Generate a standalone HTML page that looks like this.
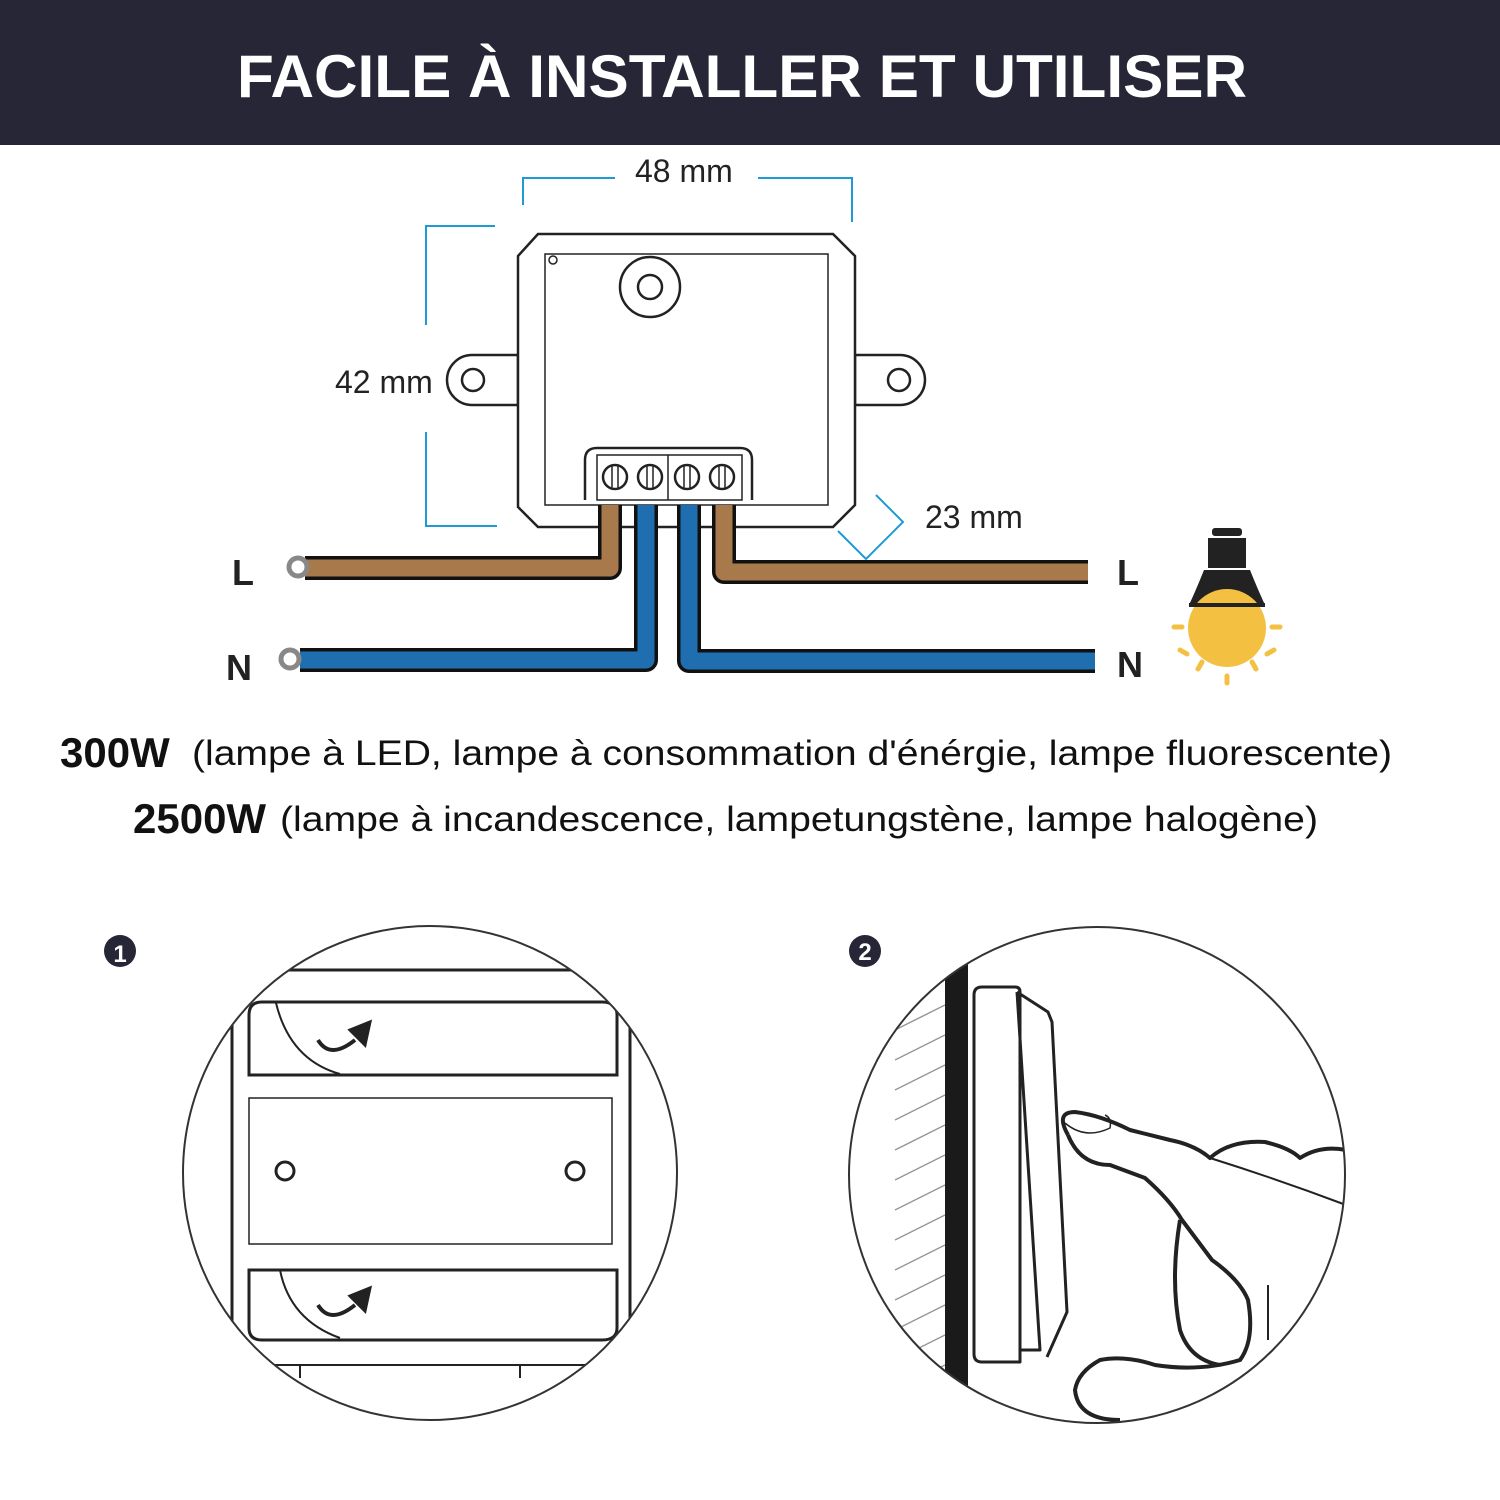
<!DOCTYPE html>
<html><head><meta charset="utf-8"><style>
html,body{margin:0;padding:0;background:#fff;width:1500px;height:1500px;overflow:hidden}
svg{display:block}
</style></head><body>
<svg width="1500" height="1500" viewBox="0 0 1500 1500" xmlns="http://www.w3.org/2000/svg">
<rect x="0" y="0" width="1500" height="145" fill="#262636"/>
<text x="742" y="97" text-anchor="middle" font-family="Liberation Sans, sans-serif" font-weight="bold" font-size="60" fill="#fff" textLength="1010" lengthAdjust="spacingAndGlyphs">FACILE À INSTALLER ET UTILISER</text>

<g stroke="#1e9ad6" stroke-width="2" fill="none">
<path d="M523,205 V178 H615 M758,178 H852 V222"/>
<path d="M495,226 H426 V325 M426,432 V526 H497"/>
<path d="M876,495 L903,522 L866,559 L838,531"/>
</g>
<g font-family="Liberation Sans, sans-serif" font-size="32" fill="#222">
<text x="635" y="182">48 mm</text>
<text x="335" y="393">42 mm</text>
<text x="925" y="528">23 mm</text>
</g>

<g stroke="#222" stroke-width="2.5" fill="#fff">
<path d="M518,355 H472 A25,25 0 0 0 472,405 H518 Z"/>
<path d="M855,355 H900 A25,25 0 0 1 900,405 H855 Z"/>
<circle cx="473" cy="380" r="11"/>
<circle cx="899" cy="380" r="11"/>
<path d="M538,234 H833 L855,256 V505 L833,527 H538 L518,507 V256 Z"/>
<path d="M545,254 H828 V505 H545 Z" fill="none" stroke-width="1.5"/>
<circle cx="650" cy="287" r="30"/>
<circle cx="650" cy="287" r="12"/>
<circle cx="553" cy="260" r="4" stroke-width="1.5"/>
<path d="M585,500 V460 Q585,448 597,448 H740 Q752,448 752,460 V500" />
<rect x="597" y="455" width="145" height="45" stroke-width="1.5"/>
<line x1="668" y1="455" x2="668" y2="500" stroke-width="1.5"/>
<circle cx="615" cy="477" r="12"/><circle cx="650" cy="477" r="12"/>
<circle cx="687" cy="477" r="12"/><circle cx="722" cy="477" r="12"/>
<path d="M612,466 V488 M618,466 V488 M647,466 V488 M653,466 V488 M684,466 V488 M690,466 V488 M719,466 V488 M725,466 V488" stroke-width="1.5"/>
</g>

<g fill="none" stroke-linejoin="round">
<path d="M305,568 H610 V505" stroke="#111" stroke-width="24"/>
<path d="M305,568 H610 V505" stroke="#a8794a" stroke-width="17"/>
<path d="M300,660 H646 V505" stroke="#111" stroke-width="24"/>
<path d="M300,660 H646 V505" stroke="#1f6fb0" stroke-width="17"/>
<path d="M689,505 V661 H1095" stroke="#111" stroke-width="24"/>
<path d="M689,505 V661 H1095" stroke="#1f6fb0" stroke-width="17"/>
<path d="M724,505 V572 H1088" stroke="#111" stroke-width="24"/>
<path d="M724,505 V572 H1088" stroke="#a8794a" stroke-width="17"/>
</g>
<circle cx="298" cy="567" r="9" fill="#fff" stroke="#888" stroke-width="5"/>
<circle cx="290" cy="659" r="9" fill="#fff" stroke="#888" stroke-width="5"/>
<g font-family="Liberation Sans, sans-serif" font-weight="bold" font-size="36" fill="#222">
<text x="232" y="585">L</text>
<text x="226" y="680">N</text>
<text x="1117" y="585">L</text>
<text x="1117" y="677">N</text>
</g>

<g>
<rect x="1212" y="528" width="30" height="8" rx="3" fill="#222"/>
<rect x="1208" y="538" width="38" height="30" fill="#222"/>
<path d="M1204,570 H1250 Q1258,590 1265,605 H1189 Q1196,590 1204,570 Z" fill="#222"/>
<circle cx="1227" cy="628" r="39" fill="#f4c042"/>
<path d="M1189,605 H1265" stroke="#222" stroke-width="4"/>
<g stroke="#f4c042" stroke-width="5" stroke-linecap="round">
<line x1="1174" y1="627" x2="1182" y2="627"/><line x1="1272" y1="627" x2="1280" y2="627"/>
<line x1="1180" y1="650" x2="1187" y2="654"/><line x1="1274" y1="650" x2="1267" y2="654"/>
<line x1="1198" y1="669" x2="1202" y2="662"/><line x1="1256" y1="669" x2="1252" y2="662"/>
<line x1="1227" y1="676" x2="1227" y2="683"/>
</g>
</g>

<g font-family="Liberation Sans, sans-serif" fill="#111">
<text x="60" y="767" font-size="42" font-weight="bold">300W</text>
<text x="192" y="765" font-size="35" textLength="1200" lengthAdjust="spacingAndGlyphs">(lampe à LED, lampe à consommation d'énérgie, lampe fluorescente)</text>
<text x="133" y="833" font-size="42" font-weight="bold">2500W</text>
<text x="280" y="831" font-size="35" textLength="1038" lengthAdjust="spacingAndGlyphs">(lampe à incandescence, lampetungstène, lampe halogène)</text>
</g>

<circle cx="120" cy="951" r="16" fill="#262636"/>
<text x="120" y="962" text-anchor="middle" font-family="Liberation Sans, sans-serif" font-weight="bold" font-size="24" fill="#fff">1</text>
<circle cx="865" cy="951" r="16" fill="#262636"/>
<text x="865" y="960" text-anchor="middle" font-family="Liberation Sans, sans-serif" font-weight="bold" font-size="24" fill="#fff">2</text>

<defs>
<clipPath id="c1"><circle cx="430" cy="1173" r="247"/></clipPath>
<clipPath id="c2"><circle cx="1097" cy="1175" r="248"/></clipPath>
</defs>
<g clip-path="url(#c1)" stroke="#222" fill="none" stroke-width="3">
<line x1="230" y1="970" x2="640" y2="970"/>
<line x1="232" y1="1000" x2="232" y2="1380"/>
<line x1="630" y1="1000" x2="630" y2="1380"/>
<path d="M249,1075 V1015 Q249,1002 262,1002 H602 Q617,1002 617,1015 V1075 Z"/>
<path d="M276,1003 Q290,1060 340,1074" stroke-width="2"/>
<path d="M249,1270 H617 V1328 Q617,1340 602,1340 H262 Q249,1340 249,1328 Z"/>
<path d="M280,1270 Q290,1320 340,1338" stroke-width="2"/>
<rect x="249" y="1098" width="363" height="146" stroke-width="1.5"/>
<circle cx="285" cy="1171" r="9"/>
<circle cx="575" cy="1171" r="9"/>
<path d="M250,1365 H610 M300,1365 V1378 M520,1365 V1378" stroke-width="2"/>
<path d="M318,1040 Q330,1060 355,1040" stroke-width="4"/>
<path d="M350,1030 L370,1022 L365,1045 Z" fill="#222"/>
<path d="M318,1305 Q330,1325 355,1305" stroke-width="4"/>
<path d="M350,1296 L370,1288 L365,1311 Z" fill="#222"/>
</g>
<circle cx="430" cy="1173" r="247" fill="none" stroke="#333" stroke-width="2"/>

<g clip-path="url(#c2)" fill="none">
<g stroke="#999" stroke-width="1.5">
<path d="M895,1000 L945,975 M895,1030 L945,1005 M895,1060 L945,1035 M895,1090 L945,1065 M895,1120 L945,1095 M895,1150 L945,1125 M895,1180 L945,1155 M895,1210 L945,1185 M895,1240 L945,1215 M895,1270 L945,1245 M895,1300 L945,1275 M895,1330 L945,1305 M895,1360 L945,1335 M895,1390 L945,1365"/>
</g>
<rect x="945" y="960" width="23" height="480" fill="#1a1a1a"/>
<g stroke="#222" stroke-width="3" stroke-linejoin="round">
<path d="M982,987 H1015 Q1020,987 1020,992 V1362 H982 Q974,1362 974,1354 V995 Q974,987 982,987 Z"/>
<path d="M1017,992 L1048,1012 L1052,1022 L1067,1312 L1047,1357"/>
<path d="M1017,992 L1040,1350 H1020"/>
<path d="M1068,1135 Q1055,1112 1075,1112 Q1100,1115 1130,1130 L1170,1140 Q1195,1145 1210,1158 Q1230,1140 1265,1142 Q1290,1148 1300,1158 Q1320,1145 1346,1150" stroke-width="4"/>
<path d="M1068,1135 Q1080,1165 1110,1165 L1145,1178 Q1170,1200 1182,1220 L1212,1260 Q1240,1280 1248,1300 Q1255,1340 1240,1360 Q1200,1372 1155,1365 Q1125,1355 1100,1360 Q1078,1372 1075,1390 Q1078,1420 1120,1420" stroke-width="4"/>
<path d="M1180,1220 Q1170,1280 1180,1330 Q1190,1360 1220,1365" stroke-width="4"/>
<path d="M1210,1158 Q1280,1180 1346,1205" stroke-width="2"/>
<path d="M1065,1123 Q1085,1140 1110,1128 Q1112,1118 1105,1115" stroke-width="1.5"/>
<path d="M1268,1285 V1340" stroke-width="2"/>
</g>
</g>
<circle cx="1097" cy="1175" r="248" fill="none" stroke="#333" stroke-width="2"/>
</svg>
</body></html>
